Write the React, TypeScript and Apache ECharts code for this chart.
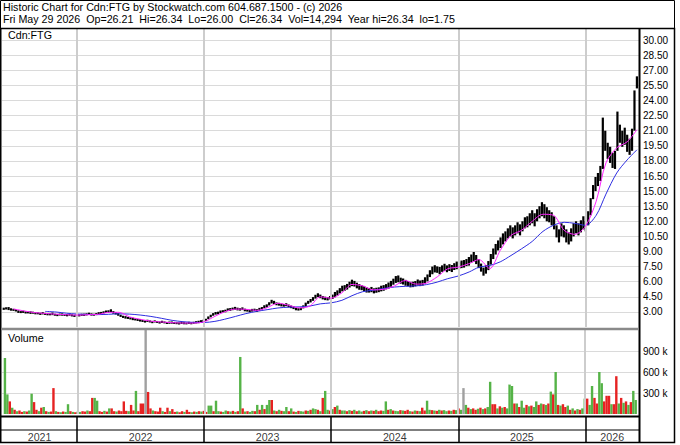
import React, { useEffect, useRef } from 'react';
import * as echarts from 'echarts';

// ---- weekly price ranges (high / low), one value per week, Fri Jun 4 2021 .. Fri May 29 2026
const hi2021 = [3.42,3.46,3.48,3.36,3.30, 3.26,3.16,3.08,3.12,3.05, 3.04,3.06,3.02,2.97,2.95, 2.92,2.98,2.90,2.87,2.85, 2.94,2.82,2.80,2.84,2.86, 2.79,2.78,2.81,2.76,2.72, 2.78];
const lo2021 = [3.20,3.24,3.18,3.12,3.10, 3.04,2.90,2.88,2.90,2.84, 2.85,2.80,2.82,2.76,2.76, 2.70,2.75,2.70,2.66,2.66, 2.68,2.62,2.58,2.64,2.62, 2.60,2.56,2.62,2.55,2.50, 2.55];
const hi2022 = [2.76,2.82,2.83,2.86,2.92,2.86, 2.82,2.88,2.97,3.00,3.06,3.14, 3.16,3.26,3.08,2.96, 2.88,2.72,2.62,2.58,2.50,2.46,2.42,2.35, 2.30,2.28,2.20,2.15,2.22,2.15, 2.10,2.16,2.10,2.05,2.12,2.05,2.00,2.04,2.05,2.00,1.98,1.96,2.02,1.98, 1.95,2.02,1.98,2.02,2.08,2.12,2.18,2.22];
const lo2022 = [2.55,2.60,2.60,2.65,2.70,2.63, 2.62,2.68,2.75,2.78,2.85,2.90, 2.94,2.98,2.82,2.74, 2.62,2.50,2.40,2.33,2.30,2.25,2.18,2.15, 2.10,2.04,2.00,1.94,2.00,1.95, 1.88,1.95,1.90,1.84,1.90,1.86,1.80,1.82,1.83,1.80,1.78,1.75,1.80,1.77, 1.76,1.80,1.77,1.82,1.85,1.88,1.95,2.00];
const hi2023 = [2.32,2.55,2.72,2.88,2.99, 3.02,3.14,3.17,3.22,3.35,3.38, 3.43,3.50,3.42,3.37,3.45,3.32, 3.27,3.22,3.30,3.32,3.27,3.40, 3.48,3.66,3.75,3.96,4.20, 4.10,3.94,3.90,3.83,3.78,3.86, 3.73,3.63,3.55,3.42,3.37,3.43, 3.65,3.92,4.10,4.28,4.47,4.70, 4.85,4.72,4.58,4.51,4.46,4.58];
const lo2023 = [2.10,2.28,2.46,2.62,2.73, 2.76,2.88,2.93,2.96,3.08,3.10, 3.17,3.22,3.15,3.13,3.18,3.06, 3.03,2.96,3.03,3.08,3.00,3.12, 3.22,3.36,3.43,3.64,3.84, 3.78,3.66,3.62,3.55,3.52,3.57, 3.45,3.37,3.28,3.16,3.13,3.17, 3.35,3.58,3.80,3.94,4.10,4.32, 4.48,4.36,4.24,4.17,4.14,4.24];
const hi2024 = [4.72,4.98,5.14,5.36,5.60,5.66, 5.78,6.00,6.20,6.08,5.90,5.76, 5.64,5.58,5.44,5.38,5.48,5.34, 5.40,5.44,5.60,5.66,5.76,5.92, 6.08,6.30,6.56,6.62,6.40,6.32, 6.18,6.06,5.98,6.00,6.06,6.22, 6.12,6.18,6.44,6.72,7.14,7.50, 7.64,7.52,7.46,7.62,7.78,7.62, 7.74,7.66,7.84,8.00];
const lo2024 = [4.28,4.46,4.62,4.84,5.04,5.10, 5.22,5.42,5.56,5.52,5.34,5.20, 5.16,5.06,4.92,4.92,4.96,4.84, 4.90,4.96,5.04,5.10,5.24,5.32, 5.50,5.70,5.88,5.94,5.80,5.72, 5.60,5.54,5.44,5.46,5.54,5.62, 5.56,5.62,5.80,6.04,6.46,6.74, 6.92,6.88,6.74,6.98,7.06,6.94, 7.06,6.96,7.16,7.24];
const hi2025 = [7.95,8.10,8.15,8.25,8.45, 8.70,8.95,8.65,8.25,7.80, 7.40,7.65,8.05,8.75,9.30, 9.75,10.1,10.4,10.8,11.0, 11.3,11.6,11.4,11.6,11.9, 11.7,12.0,12.4,12.5,12.8, 13.1,12.8,13.2,13.5,13.9, 13.7,13.4,13.1,12.9,12.5, 11.6,11.2,11.8,11.6,11.2, 10.9,11.3,11.8,12.0,11.8, 12.1,12.5];
const lo2025 = [7.25,7.35,7.40,7.55,7.60, 7.90,8.00,7.75,7.35,7.00, 6.60,6.80,7.15,7.70,8.25, 8.70,9.10,9.35,9.70,10.0, 10.3,10.5,10.3,10.6,10.8, 10.6,11.0,11.3,11.4,11.6, 11.8,11.5,12.0,12.3,12.5, 12.3,12.0,11.9,11.6,11.2, 10.4,9.9,10.5,10.4,9.9, 9.7,10.0,10.5,10.8,10.6, 10.9,11.2];
const hi2026 = [12.0,13.0,14.3,15.6,16.4,16.8,17.5,22.3,21.0,19.8,19.4,18.8,19.0,22.9,21.6,21.0,21.3,20.6,20.2,21.2,25.0,26.4];
const lo2026 = [11.0,11.6,12.6,14.2,15.0,15.5,16.0,17.2,19.0,18.2,17.8,17.3,17.2,19.0,19.8,19.4,19.6,18.9,18.6,19.0,21.0,25.2];

// ---- weekly volume (thousands) and bar colour code (g = up, r = down, n = unchanged)
const vol2021 = [800,280,180,90,60, 40,50,30,40,35, 50,290,170,60,40, 90,100,40,30,35, 370,40,30,25,35, 30,140,40,30,25, 35];
const dir2021 = "ggrgrgrrgr" + "ggrrgrgrgr" + "rgrgrggrgr" + "g";
const vol2022 = [30,40,35,50,40, 230,230,190, 40,30,45,35, 80,80, 40,35,50,40, 180, 45,40, 130, 50, 330, 40, 150,150, 1300, 315, 80, 50,40,35, 90, 40,30, 90, 40, 70, 30,35,25,40,30, 60, 30,25,35,30,40,35,45];
const dir2022 = "grrgrrggrr" + "grgrrgrrrr" + "grrgrrrnrr" + "grrrgrrgrr" + "grrgrrgrgr" + "gr";
const vol2023 = [30,120,120,40,190, 40,35,30,50,40,35,45,30,40, 815,80, 35,40,30,45,40, 130,60,130,70,130, 200,200, 50,40,60,45,40, 100,40,80, 35,30,45,40,35,50,45, 60,80,70,60, 40,230,330, 60,50];
const dir2023 = "rggrggrggr" + "grgrgrgrgg" + "rgrgrggrgr" + "grggrgrgrg" + "grgrggrgrg" + "gr";
const vol2024 = [70,100,120,60,50, 50,40,55,45,60,40,50,35,45,55,40,50,45,60,40,50,45, 180, 60,70,50,45,40,55,50,45,60,40,35,50,45,40, 90, 50, 190, 60,55,50,45,60,50,55,40,50,45,60,55];
const dir2024 = "grgrggrgrg" + "rggrgrgrgr" + "rggrgrggrg" + "rrgrgrgrrg" + "grgrgrggrg" + "rg";
const vol2025 = [80,60, 370, 130,90, 70,80,60,75,90,70,80,100, 460, 140,140, 80,110,90,100,80, 420,400, 150,150, 100, 190, 90,130,110,120,100, 180, 130,150,140,130,150, 320, 280, 600, 130,120,140,100,120, 60,80,50,70,60,80];
const dir2025 = "rgngrgrrgr" + "grggrrgrgr" + "gggrgrggrg" + "rggrgrgrgr" + "grgrrgrgrg" + "rg";
const vol2026 = [220,220,130,400,230,150,600,440,180,260,260,140,140,540,150,230,160,180,130,170,330,200];
const dir2026 = "grggrrggrrrgrrgrgrgrgg";

// ---- moving averages, month-start readings
const magentaMA = [3.30,3.10,2.93,2.85,2.77,2.72,
  2.68,2.72,2.75,2.95,2.96,2.50,2.27,2.08,2.00,1.93,1.89,1.89,
  2.02,2.56,3.01,3.28,3.26,3.15,3.42,3.86,3.66,3.40,3.58,4.50,
  4.36,4.90,5.73,5.58,5.19,5.25,5.58,6.12,5.76,5.86,6.48,7.28,
  7.45,7.80,8.20,7.30,9.10,10.6,11.1,12.0,12.7,12.6,11.1,10.7,
  11.5,14.0,17.8,19.3,19.9];
const magentaLast = 21.1;
const blueMA = [3.05,2.99,2.87,
  2.79,2.75,2.73,2.76,2.81,2.78,2.69,2.55,2.36,2.16,2.03,1.96,
  1.95,2.06,2.27,2.55,2.83,3.05,3.22,3.39,3.47,3.50,3.58,3.80,
  3.90,4.15,4.61,5.01,5.15,5.33,5.47,5.54,5.58,5.71,5.96,6.30,
  6.57,6.97,7.44,7.61,7.97,8.60,9.26,10.0,11.0,11.6,11.9,11.8,
  11.6,12.6,14.7,16.8,18.1];
const blueLast = 19.1;

const yearLabels = ['2021', '2022', '2023', '2024', '2025', '2026'];
const title1 = 'Historic Chart for Cdn:FTG by Stockwatch.com 604.687.1500 - (c) 2026';
const title2 = 'Fri May 29 2026  Op=26.21  Hi=26.34  Lo=26.00  Cl=26.34  Vol=14,294  Year hi=26.34  lo=1.75';
const symbolName = 'Cdn:FTG';

const FONT = '"Liberation Sans", Arial, sans-serif';
const DAY = 86400000;

export default function App() {
  const ref = useRef<HTMLDivElement>(null);
  useEffect(() => {
    document.body.style.margin = '0';
    const chart = echarts.init(ref.current as HTMLDivElement, undefined, { renderer: 'svg' });

    const hi = [...hi2021, ...hi2022, ...hi2023, ...hi2024, ...hi2025, ...hi2026];
    const lo = [...lo2021, ...lo2022, ...lo2023, ...lo2024, ...lo2025, ...lo2026];
    const vol = [...vol2021, ...vol2022, ...vol2023, ...vol2024, ...vol2025, ...vol2026];
    const dir = dir2021 + dir2022 + dir2023 + dir2024 + dir2025 + dir2026;
    const t0 = Date.UTC(2021, 5, 4);
    const weekT = hi.map((_, i) => t0 + i * 7 * DAY);
    const lastT = weekT[weekT.length - 1];

    const xMin = Date.UTC(2021, 4, 30);
    const xMax = Date.UTC(2026, 5, 4);
    const bounds = [2022, 2023, 2024, 2025, 2026].map((y) => Date.UTC(y, 0, 1));
    const edges = [xMin, ...bounds, xMax];
    const mids = yearLabels.map((_, i) => (edges[i] + edges[i + 1]) / 2);

    const magData: any[] = magentaMA.map((v, i) => [Date.UTC(2021, 6 + i, 1), v]);
    magData.push([lastT, magentaLast]);
    const blueData: any[] = blueMA.map((v, i) => [Date.UTC(2021, 9 + i, 1), v]);
    blueData.push([lastT, blueLast]);

    const colorOf: Record<string, string> = { g: '#55b347', r: '#e62222', n: '#a0a0a0' };

    const xAxisBase = (gridIndex: number) => ({
      type: 'time', gridIndex, min: xMin, max: xMax,
      axisLine: { show: false }, axisTick: { show: false }, axisLabel: { show: false }, splitLine: { show: false },
    });

    const vGrid = {
      silent: true, symbol: ['none', 'none'], label: { show: false },
      lineStyle: { color: '#cdcdcd', width: 2, type: 'solid' },
      emphasis: { disabled: true },
      data: bounds.map((t) => ({ xAxis: t })),
    };

    const option: any = {
      animation: false,
      grid: [
        { left: 2, right: 41, top: 25, height: 302 },
        { left: 2, right: 41, top: 330, height: 84 },
        { left: 2, right: 41, top: 416, height: 27 },
      ],
      xAxis: [xAxisBase(0), xAxisBase(1), xAxisBase(2)],
      yAxis: [
        {
          type: 'value', gridIndex: 0, position: 'right', min: 1.5, max: 31.5, interval: 1.5,
          axisLine: { show: false }, axisTick: { show: false },
          axisLabel: {
            color: '#000', fontSize: 10, fontFamily: FONT, margin: 4,
            formatter: (v: number) => (v < 2.99 || v > 30.01 ? '' : v.toFixed(2)),
          },
          splitLine: { show: true, showMinLine: false, showMaxLine: false, lineStyle: { color: '#dadada', width: 1 } },
        },
        {
          type: 'value', gridIndex: 1, position: 'right', min: 0, max: 1200000, interval: 300000,
          axisLine: { show: false }, axisTick: { show: false },
          axisLabel: {
            color: '#000', fontSize: 10, fontFamily: FONT, margin: 4,
            formatter: (v: number) => (v <= 0 || v >= 1200000 ? '' : Math.round(v / 1000) + ' k'),
          },
          splitLine: { show: true, showMinLine: false, showMaxLine: false, lineStyle: { color: '#dadada', width: 1 } },
        },
        { type: 'value', gridIndex: 2, min: 0, max: 27, show: false },
      ],
      series: [
        {
          type: 'scatter', xAxisIndex: 0, yAxisIndex: 0, z: 1, silent: true,
          data: [[xMin + DAY, 1.6]], symbolSize: 0, itemStyle: { color: 'transparent' },
          markLine: vGrid,
        },
        {
          type: 'custom', xAxisIndex: 0, yAxisIndex: 0, z: 3, silent: true,
          data: weekT.map((t, i) => [t, hi[i], lo[i]]),
          encode: { x: 0, y: [1, 2] },
          renderItem: (params: any, api: any) => {
            const a = api.coord([api.value(0), api.value(1)]);
            const b = api.coord([api.value(0), api.value(2)]);
            return {
              type: 'line',
              shape: { x1: a[0], y1: a[1], x2: b[0], y2: b[1] },
              style: { stroke: '#000', lineWidth: 2.2 },
            };
          },
        },
        {
          type: 'line', xAxisIndex: 0, yAxisIndex: 0, z: 4, data: blueData, showSymbol: false, symbol: 'none',
          smooth: 0.3, lineStyle: { color: '#2e2ee0', width: 1 }, silent: true,
        },
        {
          type: 'line', xAxisIndex: 0, yAxisIndex: 0, z: 5, data: magData, showSymbol: false, symbol: 'none',
          smooth: 0.3, lineStyle: { color: '#ff22ff', width: 1 }, silent: true,
        },
        {
          type: 'scatter', xAxisIndex: 1, yAxisIndex: 1, z: 1, silent: true,
          data: [[xMin + DAY, 0]], symbolSize: 0, itemStyle: { color: 'transparent' },
          markLine: vGrid,
        },
        {
          type: 'bar', xAxisIndex: 1, yAxisIndex: 1, z: 3, silent: true, barWidth: 2.4,
          data: weekT.map((t, i) => ({ value: [t, vol[i] * 1000], itemStyle: { color: colorOf[dir[i]] || '#a0a0a0' } })),
        },
        {
          type: 'scatter', xAxisIndex: 2, yAxisIndex: 2, z: 5, silent: true,
          data: mids.map((t, i) => ({ value: [t, 6], name: yearLabels[i] })),
          symbolSize: 1, itemStyle: { color: 'transparent' },
          label: {
            show: true, position: 'inside', formatter: (p: any) => p.name,
            color: '#000', fontSize: 10.7, fontFamily: FONT,
          },
          markLine: {
            silent: true, symbol: ['none', 'none'], label: { show: false },
            lineStyle: { color: '#000', width: 1.5, type: 'solid' },
            data: bounds.map((t) => ({ xAxis: t })),
          },
        },
      ],
      graphic: [
        { type: 'rect', z: 100, shape: { x: 0.5, y: 0.5, width: 674, height: 28 }, style: { fill: '#fff', stroke: '#000', lineWidth: 1 } },
        { type: 'text', z: 101, x: 3, y: 7, style: { text: title1, font: `10.7px ${FONT}`, fill: '#000', verticalAlign: 'middle' } },
        { type: 'text', z: 101, x: 3, y: 18.5, style: { text: title2, font: `10.7px ${FONT}`, fill: '#000', verticalAlign: 'middle' } },
        { type: 'text', z: 101, x: 8, y: 35, style: { text: symbolName, font: `10.7px ${FONT}`, fill: '#000', verticalAlign: 'middle' } },
        { type: 'text', z: 101, x: 8, y: 337.5, style: { text: 'Volume', font: `10.7px ${FONT}`, fill: '#000', verticalAlign: 'middle' } },
        { type: 'rect', z: 100, shape: { x: 0.75, y: 28.5, width: 673.75, height: 414 }, style: { fill: 'none', stroke: '#000', lineWidth: 1.5 } },
        { type: 'line', z: 100, shape: { x1: 639.5, y1: 28.5, x2: 639.5, y2: 442.5 }, style: { stroke: '#000', lineWidth: 2 } },
        { type: 'line', z: 100, shape: { x1: 1.5, y1: 329, x2: 638.5, y2: 329 }, style: { stroke: '#8a8a8a', lineWidth: 2.5 } },
        { type: 'line', z: 100, shape: { x1: 1, y1: 416.5, x2: 639, y2: 416.5 }, style: { stroke: '#000', lineWidth: 2 } },
        { type: 'line', z: 100, shape: { x1: 1, y1: 430, x2: 639, y2: 430 }, style: { stroke: '#000', lineWidth: 1 } },
      ],
    };

    chart.setOption(option);
    return () => chart.dispose();
  }, []);
  return <div ref={ref} style={{ width: 680, height: 445 }} />;
}
